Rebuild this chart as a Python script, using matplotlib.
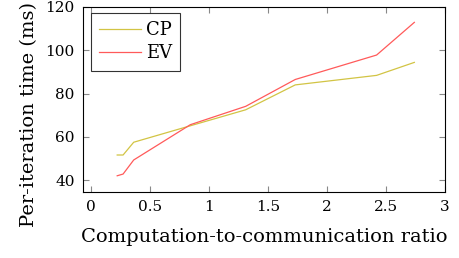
import matplotlib.pyplot as plt

ratio = [0.22, 0.27, 0.36, 0.84, 1.31, 1.73, 2.42, 2.74]
cp_time = [51.6, 51.6, 57.5, 65.1, 72.5, 84.0, 88.4, 94.4]
ev_time = [42.0, 42.8, 49.3, 65.6, 74.1, 86.5, 97.8, 112.9]
xticks = [0, 0.5, 1, 1.5, 2, 2.5, 3]
yticks = [40, 60, 80, 100, 120]

plt.rcParams['font.family'] = ['DejaVu Serif']

fig = plt.figure(figsize=(4.59, 2.58), dpi=100)
ax = fig.add_axes([83 / 459, 1 - 192 / 258, 362 / 459, 185 / 258])

ax.plot(ratio, cp_time, color='#d2c444', lw=0.9, label='CP')
ax.plot(ratio, ev_time, color='#ff5a5a', lw=0.9, label='EV')

ax.set_xlim(-0.07, 3.0)
ax.set_ylim(34.5, 120)
ax.set_xticks(xticks)
ax.set_xticklabels(['0', '0.5', '1', '1.5', '2', '2.5', '3'])
ax.set_yticks(yticks)
ax.tick_params(direction='in', top=True, right=True, length=4, width=0.8,
               color='#888888', labelsize=11, pad=6)
for s in ax.spines.values():
    s.set_linewidth(0.8)

ax.set_xlabel('Computation-to-communication ratio', fontsize=14, labelpad=10)
ax.set_ylabel('Per-iteration time (ms)', fontsize=14)
ax.yaxis.set_label_coords(-0.125, 0.42)

leg = ax.legend(loc='upper left', bbox_to_anchor=(0.022, 0.968), fontsize=13,
                frameon=True, fancybox=False, handlelength=2.3, borderpad=0.45,
                labelspacing=0.3, handletextpad=0.3, borderaxespad=0)
leg.get_frame().set_edgecolor('black')
leg.get_frame().set_linewidth(0.8)

fig.savefig('out.png', dpi=100)
